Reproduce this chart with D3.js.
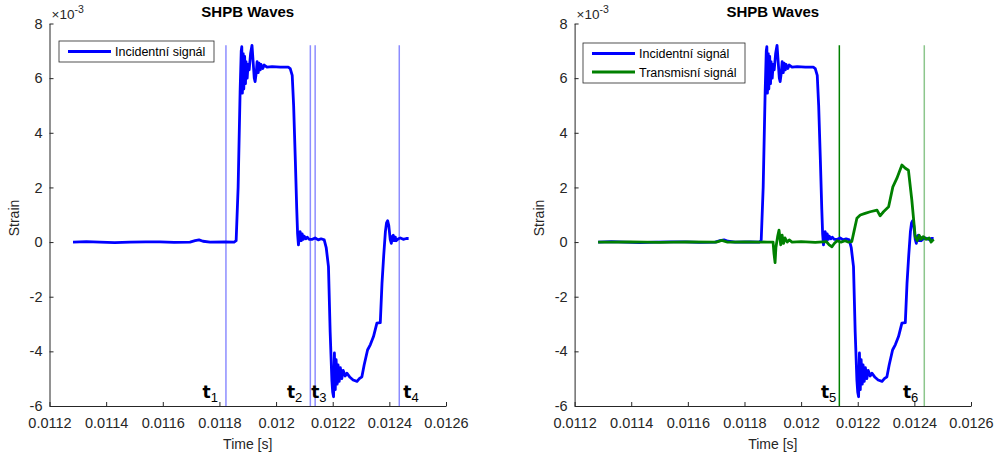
<html lang="en">
  <head>
    <meta charset="UTF-8" />
    <title>SHPB Waves</title>
    <script src="https://d3js.org/d3.v7.min.js"></script>
  </head>
  <style>
    body {
      margin: 0px;
      overflow: hidden;
      background: #fff;
    }
    text {
      font-family: "Liberation Sans", Arial, sans-serif;
      fill: #262626;
    }
  </style>
  <body>
    <svg width="999" height="453"></svg>
  </body>
  <footer>
    <script>
      // data (time in s, strain in 1e-3)
      var incidentTime = [
        0.011283, 0.011330, 0.011378, 0.011430, 0.011484, 0.011540, 0.011590, 0.011640,
        0.011696, 0.011714, 0.011728, 0.011742, 0.011767, 0.011820, 0.011852, 0.011859,
        0.011866, 0.011873, 0.011877, 0.011879, 0.011881, 0.011884, 0.011886, 0.011889,
        0.011892, 0.011894, 0.011898, 0.011901, 0.011905, 0.011910, 0.011915, 0.011919,
        0.011923, 0.011926, 0.011930, 0.011933, 0.011937, 0.011940, 0.011944, 0.011947,
        0.011953, 0.011958, 0.011968, 0.011986, 0.012015, 0.012043, 0.012050, 0.012057,
        0.012062, 0.012068, 0.012073, 0.012076, 0.012079, 0.012082, 0.012085, 0.012089,
        0.012092, 0.012096, 0.012099, 0.012105, 0.012110, 0.012117, 0.012128, 0.012138,
        0.012149, 0.012159, 0.012170, 0.012177, 0.012185, 0.012191, 0.012197, 0.012200,
        0.012203, 0.012206, 0.012209, 0.012212, 0.012216, 0.012219, 0.012223, 0.012227,
        0.012232, 0.012237, 0.012244, 0.012250, 0.012261, 0.012272, 0.012286, 0.012294,
        0.012303, 0.012311, 0.012323, 0.012333, 0.012344, 0.012356, 0.012368, 0.012374,
        0.012380, 0.012386, 0.012390, 0.012394, 0.012398, 0.012403, 0.012407, 0.012410,
        0.012414, 0.012417, 0.012421, 0.012424, 0.012432, 0.012439, 0.012449, 0.012460,
        0.012468
      ];
      var incidentStrain = [
        0, 0.02, 0, -0.02, 0, 0.01, 0.01, -0.01,
        0, 0.05, 0.08, 0.03, 0, 0.01, 0, 0.05,
        2.0, 5.5, 7.0, 7.15, 5.45, 6.9, 5.6, 6.8,
        5.8, 6.6, 6.0, 6.5, 6.3, 6.9, 7.2, 6.6,
        6.0, 5.87, 6.2, 6.6, 6.2, 6.55, 6.3, 6.5,
        6.35, 6.48, 6.4, 6.42, 6.4, 6.4, 6.35, 6.1,
        5.0, 3.0, 1.2, 0.3, -0.1, 0.2, 0.38, 0.05,
        0.3, 0.1, 0.22, 0.12, 0.18, 0.1, 0.1, 0.15,
        0.08, 0.12, 0.08, -0.2, -0.9, -3.3, -5.05, -5.5,
        -5.66, -4.06, -5.4, -4.3, -5.2, -4.5, -5.1, -4.6,
        -5.0, -4.7, -4.9, -4.8, -4.95, -5.05, -5.1, -5.0,
        -4.93, -4.5, -3.95, -3.75, -3.46, -2.97, -2.95, -1.51,
        -0.5, 0.38, 0.7, 0.78, 0.6, 0.1, -0.05, 0.2,
        0.25, 0.05, 0.18, 0.05, 0.12, 0.15, 0.1, 0.13,
        0.13
      ];

      var transmitTime = [
        0.011283, 0.011400, 0.011500, 0.011600, 0.011700, 0.011720, 0.011740, 0.011800,
        0.011880, 0.011901, 0.011904, 0.011908, 0.011911, 0.011917, 0.011922, 0.011928,
        0.011933, 0.011938, 0.011943, 0.011951, 0.011958, 0.011968, 0.012000, 0.012050,
        0.012089, 0.012099, 0.012109, 0.012117, 0.012127, 0.012141, 0.012155, 0.012166,
        0.012179, 0.012187, 0.012197, 0.012209, 0.012226, 0.012244, 0.012268, 0.012279,
        0.012291, 0.012309, 0.012324, 0.012338, 0.012356, 0.012368, 0.012379, 0.012391,
        0.012403, 0.012410, 0.012417, 0.012424, 0.012431, 0.012442, 0.012452, 0.012459,
        0.012468
      ];
      var transmitStrain = [
        0, 0.01, -0.01, 0.01, 0, 0.06, 0, 0.01,
        0, 0, -0.4, -0.75, -0.2, 0.2, 0.44, -0.1,
        0.25, -0.05, 0.15, 0, 0.08, 0, 0.02, -0.01,
        0.02, -0.1, -0.17, -0.05, 0.05, 0, 0.05, 0,
        0.02, 0.4, 0.87, 0.99, 1.05, 1.11, 1.17, 0.96,
        1.11, 1.29, 2.02, 2.33, 2.82, 2.7, 2.63, 1.54,
        0.19, 0.05, 0.25, 0.1, 0.2, 0.1, 0.15, 0,
        0.1
      ];

      var leftMarkers = [0.011823, 0.012121, 0.012138, 0.012435];
      var leftMarkerNames = ["1", "2", "3", "4"];
      var rightMarkers = [0.012135, 0.012435];
      var rightMarkerNames = ["5", "6"];
      var markerTop = 7.2;

      var xTicks = [0.0112, 0.0114, 0.0116, 0.0118, 0.012, 0.0122, 0.0124, 0.0126];
      var yTicks = [-6, -4, -2, 0, 2, 4, 6, 8];

      var incident = incidentTime.map(function (t, i) {
        return { t: t, v: incidentStrain[i] };
      });
      var transmit = transmitTime.map(function (t, i) {
        return { t: t, v: transmitStrain[i] };
      });

      var svg = d3.select("svg");
      var plotTop = 23.5, plotBottom = 406;

      var panels = [
        {
          left: 49.5,
          right: 446,
          series: [{ name: "Incidentní signál", data: incident, color: "#0000ff" }],
          markers: leftMarkers,
          names: leftMarkerNames,
          markerColor: ["#0000ff", "#0000ff", "#0000ff", "#0000ff"],
          markerOpacity: [0.45, 0.45, 0.45, 0.45],
          labelDx: [-8, -8, -4, 4],
          labelAnchor: ["end", "end", "start", "start"],
          legend: { x: 59, y: 41, w: 155, h: 21 }
        },
        {
          left: 574.6,
          right: 971,
          series: [
            { name: "Incidentní signál", data: incident, color: "#0000ff" },
            { name: "Transmisní signál", data: transmit, color: "#008000" }
          ],
          markers: rightMarkers,
          names: rightMarkerNames,
          markerColor: ["#008000", "#008000"],
          markerOpacity: [1, 0.45],
          labelDx: [-3, -6],
          labelAnchor: ["end", "end"],
          legend: { x: 583, y: 43, w: 162, h: 40 }
        }
      ];

      panels.forEach(drawPanel);

      function drawPanel(p) {
        var x = d3.scaleLinear().domain([0.0112, 0.0126]).range([p.left, p.right]);
        var y = d3.scaleLinear().domain([-6, 8]).range([plotBottom, plotTop]);
        var g = svg.append("g");

        // marker lines behind curves
        p.markers.forEach(function (m, i) {
          g.append("line")
            .attr("x1", x(m)).attr("x2", x(m))
            .attr("y1", y(-6)).attr("y2", y(markerTop))
            .attr("stroke", p.markerColor[i])
            .attr("stroke-opacity", p.markerOpacity[i])
            .attr("stroke-width", 1.5);
        });

        var line = d3.line()
          .x(function (d) { return x(d.t); })
          .y(function (d) { return y(d.v); });

        p.series.forEach(function (s) {
          g.append("path")
            .datum(s.data)
            .attr("d", line)
            .attr("fill", "none")
            .attr("stroke", s.color)
            .attr("stroke-width", 2.8)
            .attr("stroke-linejoin", "round");
        });

        // axes
        var xAxis = g.append("g")
          .attr("transform", "translate(0," + plotBottom + ")")
          .call(d3.axisBottom(x).tickValues(xTicks).tickSize(-4).tickSizeOuter(0)
            .tickPadding(12).tickFormat(function (d) { return String(d); }));
        var yAxis = g.append("g")
          .attr("transform", "translate(" + p.left + ",0)")
          .call(d3.axisLeft(y).tickValues(yTicks).tickSize(-4).tickSizeOuter(0)
            .tickPadding(7).tickFormat(function (d) { return String(d); }));
        [xAxis, yAxis].forEach(function (a) {
          a.selectAll("path, line").attr("stroke", "#262626");
          a.selectAll("text")
            .style("font-family", "'Liberation Sans', Arial, sans-serif")
            .style("font-size", "14.5px")
            .attr("fill", "#262626");
        });

        // marker labels
        p.markers.forEach(function (m, i) {
          var t = g.append("text")
            .attr("x", x(m) + p.labelDx[i])
            .attr("y", 398)
            .attr("text-anchor", p.labelAnchor[i])
            .style("fill", "#000");
          t.append("tspan")
            .style("font-family", "'DejaVu Sans', sans-serif")
            .style("font-weight", "bold")
            .style("font-size", "17px")
            .text("t");
          t.append("tspan")
            .attr("dy", 4)
            .style("font-size", "13px")
            .text(p.names[i]);
        });

        var cx = (p.left + p.right) / 2;
        g.append("text")
          .attr("x", cx).attr("y", 17)
          .attr("text-anchor", "middle")
          .style("font-weight", "bold")
          .style("font-size", "15px")
          .style("fill", "#000")
          .text("SHPB Waves");

        var ex = g.append("text")
          .attr("x", p.left + 2).attr("y", 18.5)
          .style("font-size", "13.5px");
        ex.append("tspan").text("×10");
        ex.append("tspan").attr("dy", -6).style("font-size", "10.5px").text("-3");

        g.append("text")
          .attr("transform", "translate(" + (p.left - 31) + "," + 218 + ") rotate(-90)")
          .attr("text-anchor", "middle")
          .style("font-size", "14px")
          .text("Strain");

        g.append("text")
          .attr("x", cx).attr("y", 449)
          .attr("text-anchor", "middle")
          .style("font-size", "14px")
          .text("Time [s]");

        // legend
        var L = p.legend;
        var lg = g.append("g");
        lg.append("rect")
          .attr("x", L.x).attr("y", L.y)
          .attr("width", L.w).attr("height", L.h)
          .attr("fill", "#fff")
          .attr("stroke", "#262626")
          .attr("stroke-width", 0.8);
        p.series.forEach(function (s, i) {
          var ry = L.y + 10.5 + i * 18.5;
          lg.append("line")
            .attr("x1", L.x + 9).attr("x2", L.x + 52)
            .attr("y1", ry).attr("y2", ry)
            .attr("stroke", s.color)
            .attr("stroke-width", 2.8);
          lg.append("text")
            .attr("x", L.x + 56).attr("y", ry + 4.5)
            .style("font-size", "12.5px")
            .style("fill", "#000")
            .text(s.name);
        });
      }
    </script>
  </footer>
</html>
